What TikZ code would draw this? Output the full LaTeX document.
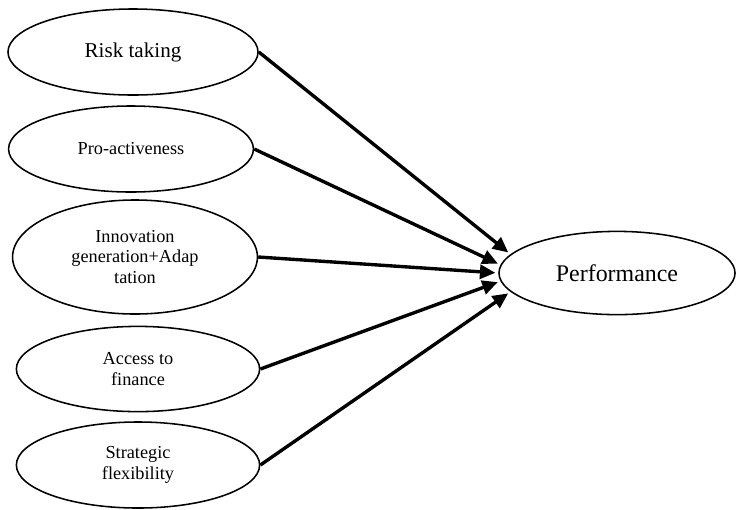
\documentclass[tikz,border=0pt]{standalone}
\usepackage{fontspec}
\setmainfont{Liberation Serif}
\usetikzlibrary{shapes.geometric,arrows.meta}
\def\smallfont{\fontsize{13}{14.5}\selectfont}
\def\bigfont{\fontsize{17}{19}\selectfont}

\begin{document}
\begin{tikzpicture}[x=0.025cm,y=-0.025cm,
    oval/.style={draw,ellipse,line width=1.1pt,inner sep=0pt,align=center,font=\smallfont},
    link/.style={line width=2.4pt,-{Triangle[length=11pt,width=10pt]},shorten >=2pt}]
    \useasboundingbox (0,0) rectangle (736,509);
    % factors on the left
    \node[oval,minimum width=6.25cm,minimum height=2.15cm,font=\fontsize{15}{17}\selectfont] (risk) at (133,52) {Risk taking};
    \node[oval,minimum width=6.12cm,minimum height=2.15cm] (pro) at (131,149) {Pro-activeness};
    \node[oval,minimum width=6.12cm,minimum height=2.85cm] (innov) at (135,257) {Innovation\\generation+Adap\\tation};
    \node[oval,minimum width=6.08cm,minimum height=2.13cm] (fin) at (138,369) {Access to\\finance};
    \node[oval,minimum width=6.08cm,minimum height=2.15cm] (flex) at (138,465) {Strategic\\flexibility};
    % outcome
    \node[oval,minimum width=5.9cm,minimum height=2.08cm,font=\bigfont] (perf) at (617,273) {Performance};
    \draw[link] (risk.east) -- (perf.170);
    \draw[link] (pro.east) -- (perf.176);
    \draw[link] (innov.east) -- (perf.180);
    \draw[link] (fin.east) -- (perf.184);
    \draw[link] (flex.east) -- (perf.190);
\end{tikzpicture}
\end{document}
